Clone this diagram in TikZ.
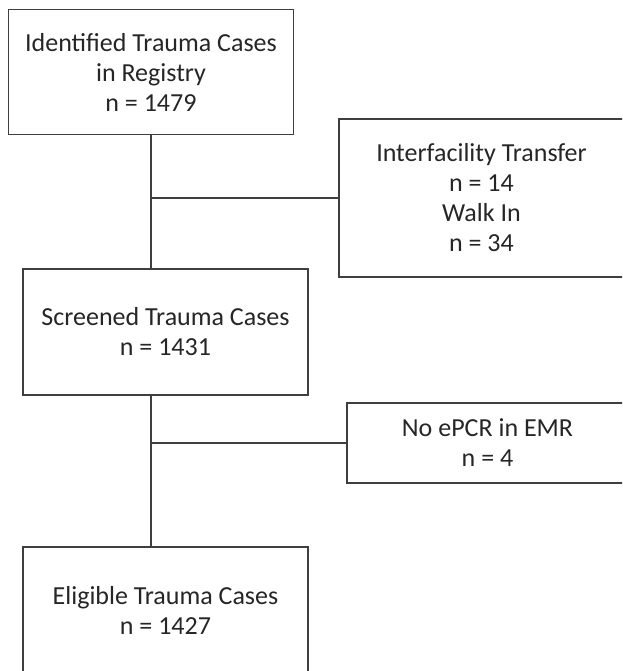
\documentclass[tikz,border=0pt]{standalone}
\usepackage{fontspec}
\setmainfont{Carlito}
\usepackage{xcolor}
\usepackage{tikz}
\definecolor{cLine}{HTML}{3F3F3F}
\definecolor{cInk}{HTML}{262626}
\tikzset{
  box/.style   = {draw=cLine, line width=1.4pt, align=center, inner sep=0pt,
                  text=cInk, font=\fontsize{26}{30}\selectfont},
  wide/.style  = {box, minimum width=285pt},
  link/.style  = {draw=cLine, line width=1.4pt},
}

\begin{document}
\begin{tikzpicture}[x=1pt, y=-1pt]
  \useasboundingbox (0,0) rectangle (622,671);
  \clip (0,0) rectangle (622,671);
  % main column
  \node[wide, minimum height=124.5pt] (ident) at (151,72)
    {Identified Trauma Cases\\ in Registry\\ n = 1479};
  \node[wide, minimum height=126pt] (screen) at (165.5,332)
    {Screened Trauma Cases\\ n = 1431};
  \node[wide, minimum height=126pt] (elig) at (165.5,610)
    {Eligible Trauma Cases\\ n = 1427};
  % exclusions
  \node[wide, minimum height=158pt] (excl1) at (481.5,198)
    {Interfacility Transfer\\ n = 14\\ Walk In\\ n = 34};
  \node[box, minimum width=281pt, minimum height=80pt] (excl2) at (487.5,443)
    {No ePCR in EMR\\ n = 4};
  % connectors
  \coordinate (j1) at (ident.south |- excl1.west);
  \coordinate (j2) at (ident.south |- excl2.west);
  \draw[link] (ident.south) -- (ident.south |- screen.north);
  \draw[link] (ident.south |- screen.south) -- (ident.south |- elig.north);
  \draw[link] (j1) -- (excl1.west);
  \draw[link] (j2) -- (excl2.west);
\end{tikzpicture}
\end{document}
